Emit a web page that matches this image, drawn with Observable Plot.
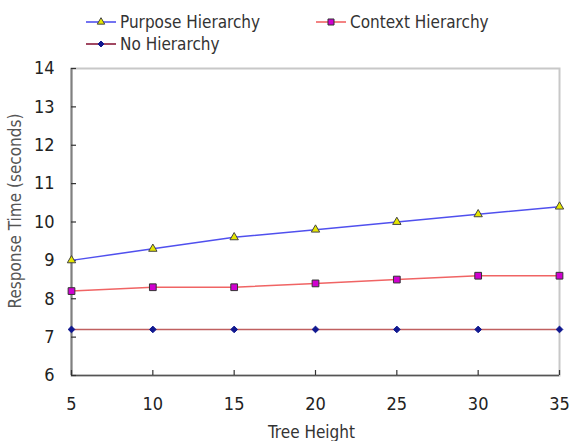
<!DOCTYPE html>
<html>
<head>
<meta charset="utf-8">
<script src="https://cdn.jsdelivr.net/npm/d3@7"></script>
<script src="https://cdn.jsdelivr.net/npm/@observablehq/plot@0.6"></script>
<style>
  html, body { margin: 0; padding: 0; background: #fff; }
  body { width: 572px; height: 441px; overflow: hidden; font-family: "DejaVu Sans Condensed", "DejaVu Sans", sans-serif; }
  #legend { position: relative; height: 56px; font-size: 17px; color: #333; }
  .item { position: absolute; display: flex; align-items: center; height: 20px; }
  .item svg { margin-right: 4px; }
  #chart svg { display: block; }
</style>
</head>
<body>
<div id="legend"></div>
<div id="chart"></div>
<script>
// Tree heights on the x axis
const treeHeights = [5, 10, 15, 20, 25, 30, 35];
// Response time in seconds for each strategy
const purposeHierarchy = [9.0, 9.3, 9.6, 9.8, 10.0, 10.2, 10.4];
const contextHierarchy = [8.2, 8.3, 8.3, 8.4, 8.5, 8.6, 8.6];
const noHierarchy = [7.2, 7.2, 7.2, 7.2, 7.2, 7.2, 7.2];
const seriesNames = ["Purpose Hierarchy", "Context Hierarchy", "No Hierarchy"];
const yTicks = [6, 7, 8, 9, 10, 11, 12, 13, 14];
const xTicks = [5, 10, 15, 20, 25, 30, 35];

const styles = {
  "Purpose Hierarchy": {line: "#5050ee", symbol: "triangle", fill: "#e6e600", stroke: "#444", r: 3.1},
  "Context Hierarchy": {line: "#f06464", symbol: "square", fill: "#d000d0", stroke: "#333", r: 3.8},
  "No Hierarchy": {line: "#c06060", symbol: "diamond2", fill: "#101890", stroke: "#101890", r: 3.0}
};

const seriesValues = [purposeHierarchy, contextHierarchy, noHierarchy];
const rows = seriesNames.flatMap((name, i) =>
  treeHeights.map((h, j) => ({series: name, height: h, time: seriesValues[i][j]}))
);

const width = 572, height = 385;
const margin = {top: 12, right: 13, bottom: 66, left: 71};
const innerW = width - margin.left - margin.right;
const innerH = height - margin.top - margin.bottom;
const font = "\"DejaVu Sans Condensed\", \"DejaVu Sans\", sans-serif";

const marks = [
  // light frame around the plotting area
  Plot.frame({stroke: "#c8c8c8", strokeWidth: 2}),
  // darker left and bottom axis lines
  Plot.ruleX([xTicks[0]], {stroke: "#808080", strokeWidth: 2}),
  Plot.ruleY([yTicks[0]], {stroke: "#555", strokeWidth: 1.5}),
  // inward tick marks
  Plot.ruleY(yTicks, {insetRight: innerW - 5, stroke: "#333", strokeWidth: 1.2}),
  Plot.ruleX(xTicks, {insetTop: innerH - 5, stroke: "#333", strokeWidth: 1.2}),
  Plot.axisY({ticks: yTicks, tickSize: 0, tickPadding: 17, fontSize: 18, fill: "#222", label: null}),
  Plot.axisX({ticks: xTicks, tickSize: 0, tickPadding: 22, fontSize: 18, fill: "#222", label: null}),
  // axis titles
  Plot.text(["Response Time (seconds)"], {text: d => d, frameAnchor: "left", textAnchor: "middle", rotate: -90, dx: -56, dy: -11, fontSize: 17, fill: "#555"}),
  Plot.text(["Tree Height"], {text: d => d, frameAnchor: "bottom", dy: 62, dx: -4, fontSize: 17, fill: "#333"})
];
for (const name of seriesNames) {
  const s = styles[name];
  const data = rows.filter(d => d.series === name);
  marks.push(Plot.line(data, {x: "height", y: "time", stroke: s.line, strokeWidth: 1.5}));
}
for (const name of seriesNames) {
  const s = styles[name];
  const data = rows.filter(d => d.series === name);
  marks.push(Plot.dot(data, {x: "height", y: "time", symbol: () => s.symbol, fill: s.fill, stroke: s.stroke, strokeWidth: 1, r: s.r}));
}

const chart = Plot.plot({
  width, height,
  marginTop: margin.top, marginRight: margin.right, marginBottom: margin.bottom, marginLeft: margin.left,
  style: {fontFamily: font, fontSize: "17px", color: "#222", background: "#fff", overflow: "visible"},
  x: {domain: [xTicks[0], xTicks[xTicks.length - 1]]},
  y: {domain: [yTicks[0], yTicks[yTicks.length - 1]]},
  symbol: {type: "identity"},
  marks
});
document.getElementById("chart").appendChild(chart);

// Legend above the chart
const legendPos = [[86, 12], [316, 12], [86, 34]];
const legend = d3.select("#legend");
seriesNames.forEach((name, i) => {
  const s = styles[name];
  const item = legend.append("div").attr("class", "item")
    .style("left", legendPos[i][0] + "px").style("top", legendPos[i][1] + "px");
  const sw = item.append("svg").attr("width", 30).attr("height", 20);
  sw.append("line").attr("x1", 0).attr("x2", 30).attr("y1", 10).attr("y2", 10)
    .attr("stroke", name === "No Hierarchy" ? "#8a1a3a" : s.line).attr("stroke-width", 1.6);
  const symType = {triangle: d3.symbolTriangle, square: d3.symbolSquare, diamond2: d3.symbolDiamond2}[s.symbol];
  sw.append("path").attr("transform", "translate(15,10)")
    .attr("d", d3.symbol(symType, Math.PI * s.r * s.r * 0.8)())
    .attr("fill", s.fill).attr("stroke", s.stroke).attr("stroke-width", 1);
  item.append("span").text(name);
});
</script>
</body>
</html>
